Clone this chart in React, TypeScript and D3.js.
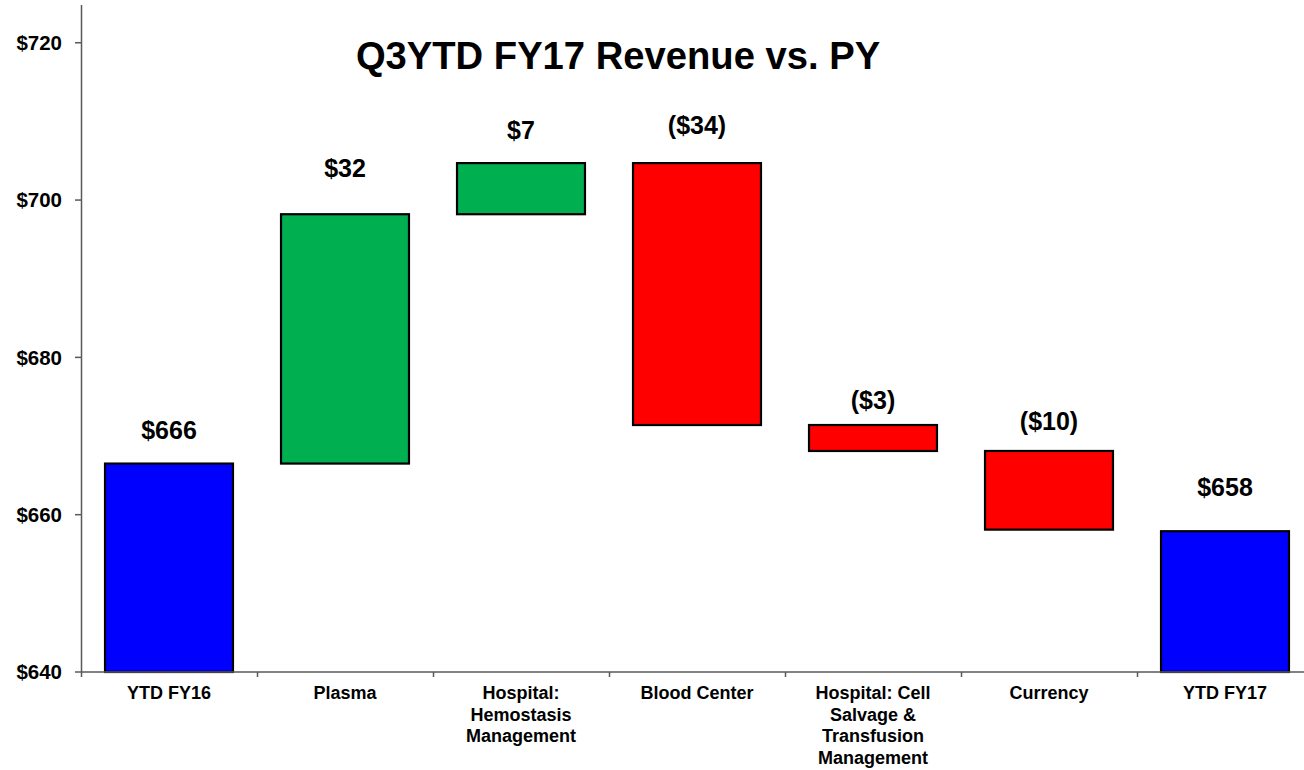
import React from "react";
import * as d3 from "d3";

const categories = ["YTD FY16", "Plasma", "Hospital: Hemostasis Management", "Blood Center", "Hospital: Cell Salvage & Transfusion Management", "Currency", "YTD FY17"];
const categoryLines = [["YTD FY16"], ["Plasma"], ["Hospital:", "Hemostasis", "Management"], ["Blood Center"], ["Hospital: Cell", "Salvage &", "Transfusion", "Management"], ["Currency"], ["YTD FY17"]];
const startValue = 666.5;
const deltas = [31.7, 6.5, -33.3, -3.3, -10.0];
const endValue = 657.9;
const valueLabels = ["$666", "$32", "$7", "($34)", "($3)", "($10)", "$658"];
const labelAnchors = [670.8, 704.1, 708.9, 709.6, 674.6, 671.9, 663.5];
const yTicks = [640, 660, 680, 700, 720];
const title = "Q3YTD FY17 Revenue vs. PY";

const BLUE = "#0000FF";
const GREEN = "#00B050";
const RED = "#FF0000";

export default function App() {
  const W = 1304, H = 770;
  const left = 81, right = 1313, top = 5, bottom = 672;
  const y = d3.scaleLinear().domain([640, 724.8]).range([bottom, top]);
  const x = d3.scaleBand<string>().domain(categories).range([left, right]).paddingInner(0.273).paddingOuter(0.1365);
  const step = x.step();
  const bw = x.bandwidth();

  type Bar = { cat: string; y0: number; y1: number; color: string };
  const bars: Bar[] = [];
  bars.push({ cat: categories[0], y0: 640, y1: startValue, color: BLUE });
  let cum = startValue;
  deltas.forEach((d, i) => {
    const next = cum + d;
    bars.push({ cat: categories[i + 1], y0: Math.min(cum, next), y1: Math.max(cum, next), color: d >= 0 ? GREEN : RED });
    cum = next;
  });
  bars.push({ cat: categories[6], y0: 640, y1: endValue, color: BLUE });

  const font = "'Liberation Sans', Arial, sans-serif";
  const axisColor = "#595959";

  return (
    <svg width={W} height={H} style={{ position: "absolute", left: 0, top: 0, background: "#fff" }} fontFamily={font}>
      <text x={618} y={69} textAnchor="middle" fontSize={38.2} fontWeight="bold" fill="#000">{title}</text>
      {bars.map((b, i) => (
        <rect key={i} x={x(b.cat)!} y={y(b.y1)} width={bw} height={y(b.y0) - y(b.y1)} fill={b.color} stroke="#000" strokeWidth={2.2} />
      ))}
      {/* y axis */}
      <line x1={left + 0.5} x2={left + 0.5} y1={top} y2={bottom} stroke={axisColor} strokeWidth={1.5} />
      {yTicks.map((t) => (
        <g key={t}>
          <line x1={left - 6} x2={left} y1={y(t)} y2={y(t)} stroke={axisColor} strokeWidth={1.5} />
          <text x={62} y={y(t)} dy="0.36em" textAnchor="end" fontSize={20.5} fontWeight="bold" fill="#000">{"$" + t}</text>
        </g>
      ))}
      {/* x axis */}
      <line x1={left} x2={right} y1={bottom} y2={bottom} stroke={axisColor} strokeWidth={1.5} />
      {categories.map((c, i) => {
        const sx = x(c)! - (step - bw) / 2;
        return <line key={"t" + i} x1={sx + 0.5} x2={sx + 0.5} y1={bottom} y2={bottom + 5} stroke={axisColor} strokeWidth={1.5} />;
      })}
      {categories.map((c, i) => (
        <text key={"c" + i} textAnchor="middle" fontSize={18} fontWeight="bold" fill="#000">
          {categoryLines[i].map((ln, j) => (
            <tspan key={j} x={x(c)! + bw / 2} y={bottom + 27 + j * 21.7}>{ln}</tspan>
          ))}
        </text>
      ))}
      {categories.map((c, i) => (
        <text key={"v" + i} x={x(c)! + bw / 2} y={y(labelAnchors[i])} dy="0.36em" textAnchor="middle" fontSize={25} fontWeight="bold" fill="#000">{valueLabels[i]}</text>
      ))}
    </svg>
  );
}
